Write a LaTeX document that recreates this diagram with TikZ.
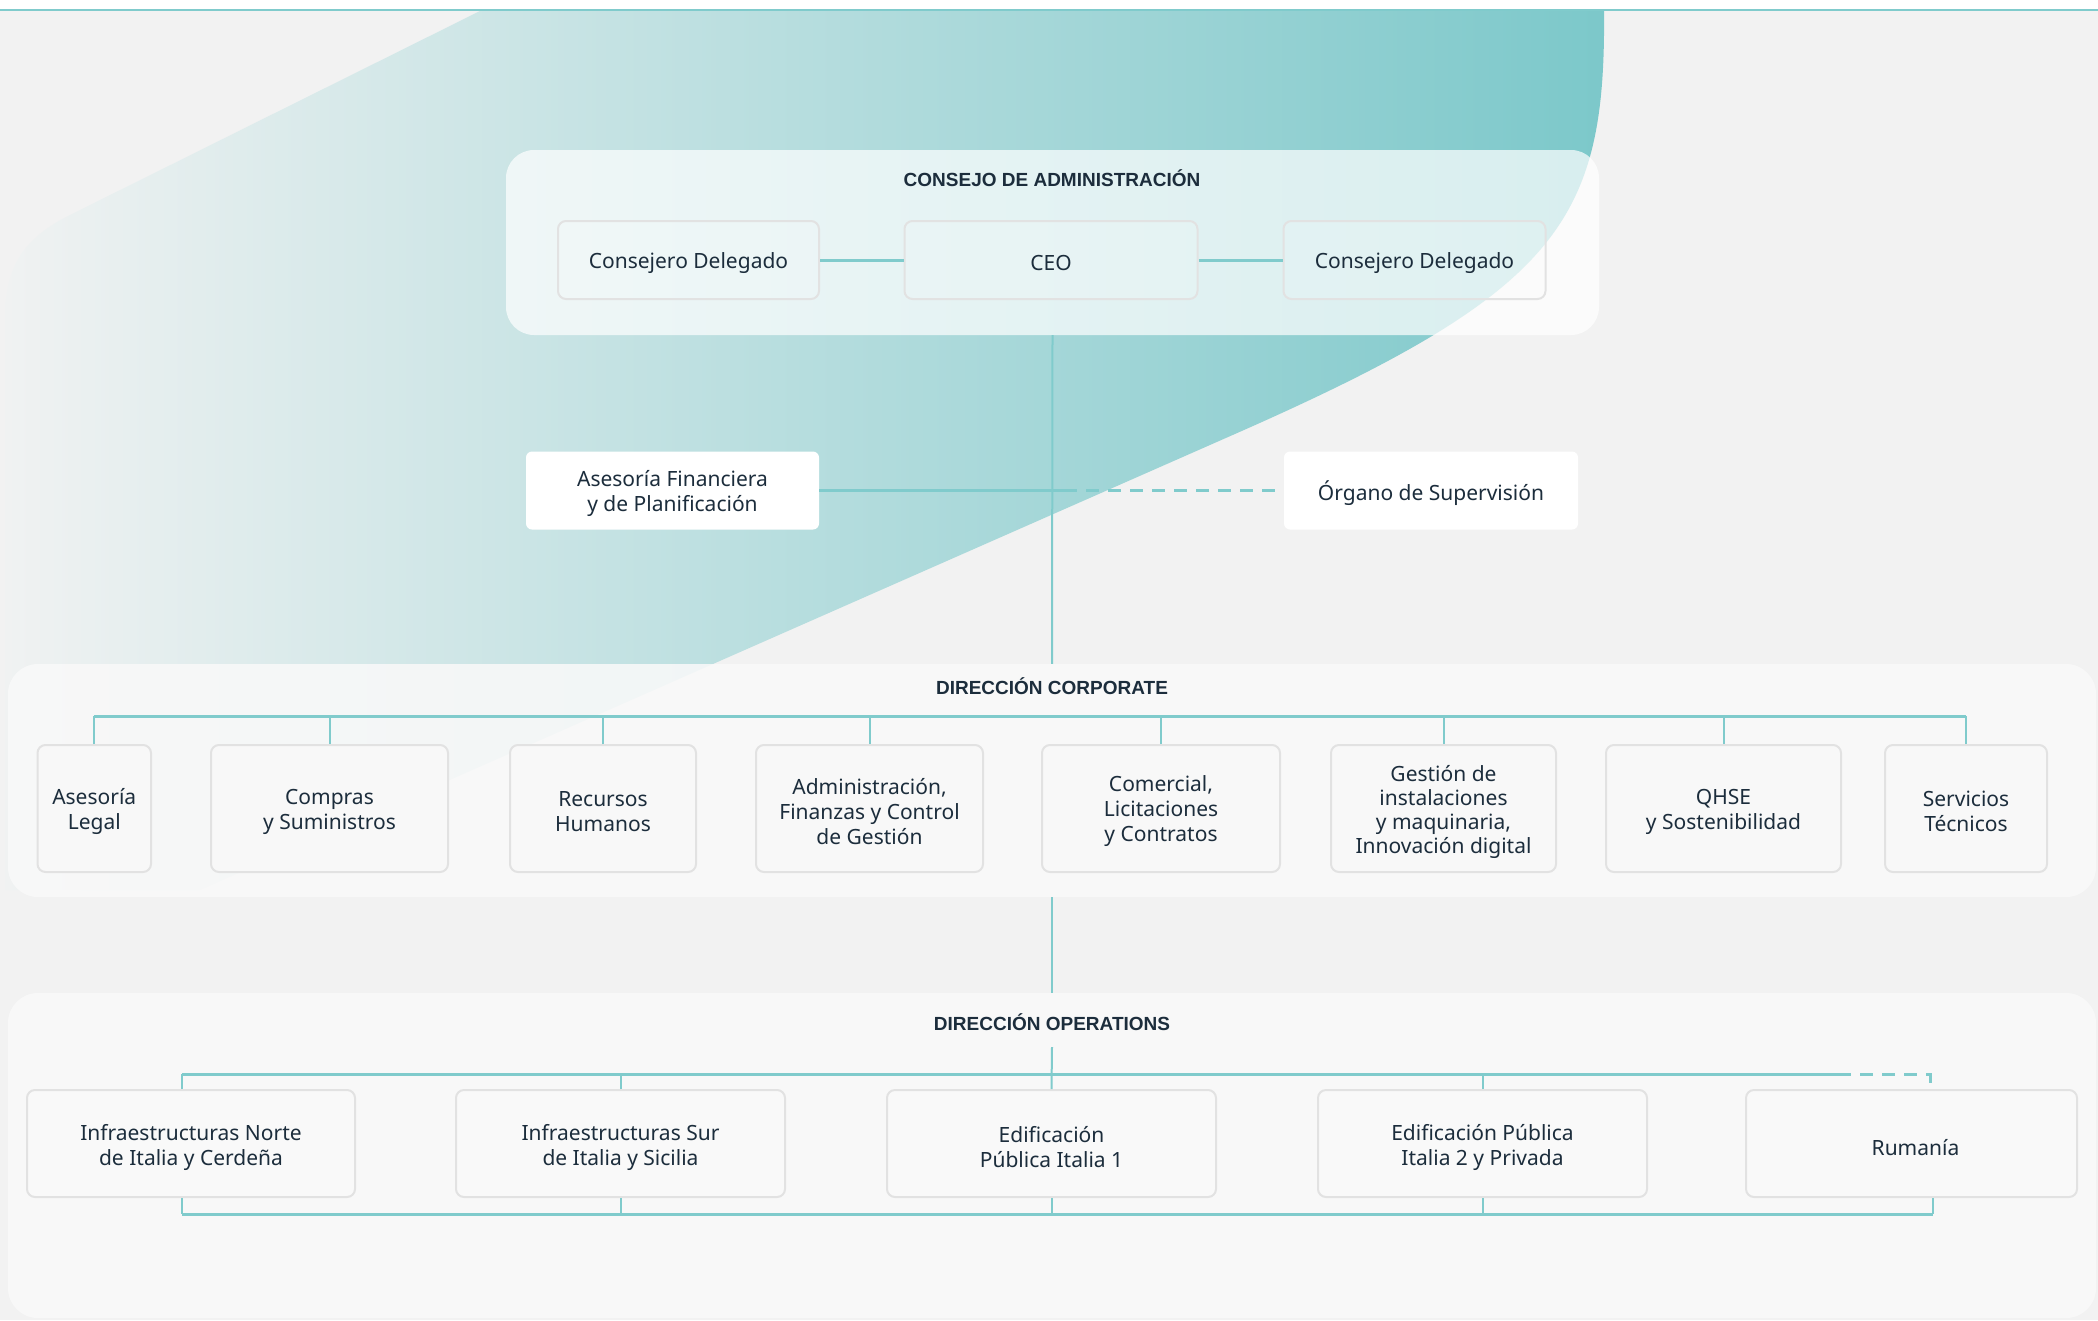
\documentclass[tikz,border=0pt]{standalone}
\usepackage{fontspec}
\setmainfont{Noto Sans}
\newfontfamily\ttlfamily{Liberation Sans}
\usetikzlibrary{calc}
\definecolor{bg}{HTML}{F2F2F2}
\definecolor{tl}{HTML}{80CBCC}
\definecolor{swL}{HTML}{F0F2F2}
\definecolor{swR}{HTML}{7CC8CA}
\definecolor{txt}{HTML}{1C2D3C}
\definecolor{bord}{HTML}{E2E2E2}
\definecolor{pfill}{HTML}{F9F9F9}
\newcommand{\bodyfont}{\fontsize{21}{25}\selectfont}
\newcommand{\titlefont}{\ttlfamily\bfseries\fontsize{19}{22}\selectfont}
\begin{document}
\begin{tikzpicture}[x=1pt,y=-1pt,
  panel/.style={rounded corners=30, fill=pfill, fill opacity=0.88, inner sep=0, minimum width=2088},
  cpanel/.style={rounded corners=28, fill=white, fill opacity=0.7, inner sep=0},
  ttl/.style={text=txt, font=\titlefont, inner sep=0},
  lbl/.style={text=txt, font=\bodyfont, inner sep=0, align=center},
  tbox/.style={draw=bord, line width=2, rounded corners=8, fill=white, fill opacity=0.15, draw opacity=1, inner sep=0, minimum height=78},
  wbox/.style={fill=white, rounded corners=6, inner sep=0, minimum height=78},
  cbox/.style={draw=bord, line width=2, rounded corners=8, fill=pfill, fill opacity=0.92, draw opacity=1, inner sep=0, minimum height=127},
  obox/.style={draw=bord, line width=2, rounded corners=8, fill=pfill, inner sep=0, minimum height=107},
  bus/.style={draw=tl, line width=3},
  drop/.style={draw=tl, line width=2},
  dbus/.style={draw=tl, line width=3, dash pattern=on 13pt off 9pt},
]
\useasboundingbox (0,0) rectangle (2098,1320);
\fill[bg] (0,0) rectangle (2098,1320);
% swoosh
\shade[left color=swL, right color=swR]
  (482,10) -- (70,215) .. controls (20,240) and (5,270) .. (5,320) -- (5,890) -- (200,890)
  -- (1244,430) .. controls (1560,290) and (1606,220) .. (1604,10) -- cycle;
\fill[white] (0,0) rectangle (2098,9);
\draw[tl, line width=2] (0,10) -- (2098,10);

% Consejo
\node[cpanel, minimum width=1093, minimum height=185] (consejo) at (1052.5,242.5) {};
\node[ttl] (tconsejo) at (1052,178) {CONSEJO DE ADMINISTRACIÓN};
\node[tbox, minimum width=261] (cd1) at (688.5,260) {};
\node[tbox, minimum width=293] (ceo) at (1051,260) {};
\node[tbox, minimum width=262] (cd2) at (1414.5,260) {};
\node[lbl] (cd1l) at ([yshift=-3pt]cd1) {Consejero Delegado};
\node[lbl] (ceol) at ([yshift=-3pt]ceo) {CEO};
\node[lbl] (cd2l) at ([yshift=-3pt]cd2) {Consejero Delegado};
\draw[bus] (cd1.east) -- (ceo.west);
\draw[bus] (ceo.east) -- (cd2.west);

% advisory
\node[wbox, minimum width=293] (af) at (672.5,490.5) {};
\node[wbox, minimum width=294] (org) at (1431,490.5) {};
\node[lbl] (afl) at ([yshift=-3pt]af) {Asesoría Financiera\\y de Planificación};
\node[lbl] (orgl) at ([yshift=-3pt]org) {Órgano de Supervisión};

% Corporate panel
\node[panel, minimum height=233] (corp) at (1052,780.5) {};
\node[ttl] (tcorp) at (1052,686) {DIRECCIÓN CORPORATE};
\draw[drop] (consejo.south) -- (corp.north);
\coordinate (mid) at (1064,490.5);
\draw[bus] (af.east) -- (mid);
\draw[dbus] (mid) -- (org.west);

\foreach \n/\x/\w in {c1/94.25/113.5, c2/329.5/237, c3/603/186, c4/869.5/227, c5/1161/238, c6/1443.5/225, c7/1723.5/235, c8/1966/162}
  {\node[cbox, minimum width=\w] (\n) at (\x,808.5) {};}
\node[lbl] (c1l) at ([yshift=-3pt]c1) {Asesoría\\Legal};
\node[lbl] (c2l) at ([yshift=-3pt]c2) {Compras\\y Suministros};
\node[lbl] (c3l) at ([yshift=-3pt]c3) {Recursos\\Humanos};
\node[lbl] (c4l) at ([yshift=-3pt]c4) {Administración,\\Finanzas y Control\\de Gestión};
\node[lbl] (c5l) at ([yshift=-3pt]c5) {Comercial,\\Licitaciones\\y Contratos};
\node[lbl, font=\fontsize{21}{24}\selectfont] (c6l) at ([yshift=-3pt]c6) {Gestión de\\instalaciones\\y maquinaria,\\Innovación digital};
\node[lbl] (c7l) at ([yshift=-3pt]c7) {QHSE\\y Sostenibilidad};
\node[lbl] (c8l) at ([yshift=-3pt]c8) {Servicios\\Técnicos};
\coordinate (cbus) at (0,716);
\draw[bus] (c1.north |- cbus) -- (c8.north |- cbus);
\foreach \i in {1,...,8} {\draw[drop] (c\i.north) -- (c\i.north |- cbus);}

% Operations panel
\node[panel, minimum height=325] (ops) at (1052,1155.5) {};
\node[ttl] (tops) at (1052,1022.5) {DIRECCIÓN OPERATIONS};
\draw[drop] (corp.south) -- (ops.north);

\foreach \n/\x/\w in {o1/191/328, o2/620.5/329, o3/1051.5/329, o4/1482.5/329, o5/1911.5/331}
  {\node[obox, minimum width=\w] (\n) at (\x,1143.5) {};}
\node[lbl] (o1l) at ([yshift=-4pt]o1) {Infraestructuras Norte\\de Italia y Cerdeña};
\node[lbl] (o2l) at ([yshift=-4pt]o2) {Infraestructuras Sur\\de Italia y Sicilia};
\node[lbl] (o3l) at ([yshift=-4pt]o3) {Edificación\\Pública Italia 1};
\node[lbl] (o4l) at ([yshift=-4pt]o4) {Edificación Pública\\Italia 2 y Privada};
\node[lbl] (o5l) at ([yshift=-4pt,xshift=4pt]o5) {Rumanía};

\coordinate (obus) at (0,1074);
\coordinate (bbus) at (0,1214);
\coordinate (otop) at (1052,1047);
\coordinate (n1) at ([xshift=-9pt]o1.north);
\coordinate (s1) at ([xshift=-9pt]o1.south);
\coordinate (n5) at ([xshift=18.5pt]o5.north);
\coordinate (s5) at ([xshift=21.5pt]o5.south);
\coordinate (dstart) at (1838,1074);

\draw[bus] (n1 |- obus) -- (dstart);
\draw[dbus] (dstart) -- (n5 |- obus) -- (n5);
\draw[drop] (otop) -- (o3.north);
\draw[drop] (n1) -- (n1 |- obus);
\draw[drop] (o2.north) -- (o2.north |- obus);
\draw[drop] (o4.north) -- (o4.north |- obus);

\draw[bus] (s1 |- bbus) -- (s5 |- bbus);
\draw[drop] (s1) -- (s1 |- bbus);
\draw[drop] (o2.south) -- (o2.south |- bbus);
\draw[drop] (o3.south) -- (o3.south |- bbus);
\draw[drop] (o4.south) -- (o4.south |- bbus);
\draw[drop] (s5) -- (s5 |- bbus);
\end{tikzpicture}
\end{document}
